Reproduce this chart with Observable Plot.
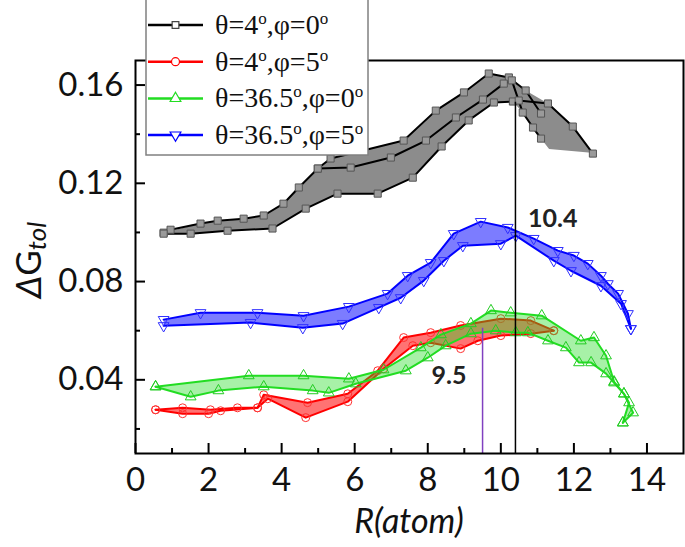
<!DOCTYPE html>
<html><head><meta charset="utf-8">
<script src="https://cdn.jsdelivr.net/npm/d3@7"></script>
<script src="https://cdn.jsdelivr.net/npm/@observablehq/plot@0.6"></script>
<style>body{margin:0;background:#fff;} #chart{width:685px;height:547px;}</style>
</head><body><div id="chart"></div>
<script>
// ---------- data ----------
const seriesTheta = ["4", "4", "36.5", "36.5"];
const seriesPhi = ["0", "5", "0", "5"];
const seriesColors = ["#000000", "#ff0000", "#22dd22", "#0000ff"];

// θ=4°, φ=0° (black)
const blackTop = [[0.77,0.0999],[0.96,0.1011],[1.78,0.1036],[2.25,0.1048],[2.96,0.1056],[3.51,0.1069],[4.05,0.1117],[4.47,0.1183],[4.99,0.1260],[5.34,0.1301],[7.34,0.1374],[8.22,0.1496],[8.99,0.1570],[9.67,0.1647],[10.22,0.1631],[10.68,0.1578],[11.10,0.1484]];
const blackMid = [[4.99,0.1260],[5.89,0.1264],[6.99,0.1305],[7.95,0.1374],[8.77,0.1468],[9.51,0.1541],[10.08,0.1606],[10.30,0.1619],[10.60,0.1488],[10.88,0.1427],[11.10,0.1382]];
const blackBot = [[0.77,0.0995],[1.51,0.0995],[2.52,0.1007],[3.75,0.1016],[4.66,0.1097],[5.53,0.1158],[6.63,0.1158],[7.59,0.1223],[8.38,0.1350],[9.12,0.1456],[9.81,0.1529],[10.33,0.1533],[10.49,0.1537],[11.29,0.1525],[11.97,0.1431],[12.52,0.1321]];
const blackBandUpper = [[0.77,0.0999],[1.78,0.1036],[2.96,0.1056],[3.51,0.1069],[4.05,0.1117],[4.47,0.1183],[4.99,0.1260],[5.34,0.1301],[7.34,0.1374],[8.22,0.1496],[8.99,0.1570],[9.67,0.1647],[10.22,0.1631],[10.6,0.1585],[11.29,0.1525],[11.97,0.1431],[12.52,0.1321]];
const blackBandLower = [[0.77,0.0995],[1.51,0.0995],[2.52,0.1007],[3.75,0.1016],[4.66,0.1097],[5.53,0.1158],[6.63,0.1158],[7.59,0.1223],[8.38,0.1350],[9.12,0.1456],[9.81,0.1529],[10.33,0.1533],[10.60,0.1488],[10.88,0.1427],[11.10,0.1382],[11.32,0.1340],[12.40,0.1325]];

// θ=4°, φ=5° (red)
const redTop = [[0.55,0.0278],[1.29,0.0286],[2.05,0.0278],[2.79,0.0286],[3.34,0.0286],[3.51,0.0339],[4.71,0.0307],[5.81,0.0343],[6.63,0.0437],[7.34,0.0572],[8.08,0.0592],[8.90,0.0621],[10.00,0.0649],[10.82,0.0641],[11.45,0.0600]];
const redBot = [[0.55,0.0278],[1.29,0.0262],[2.00,0.0262],[2.33,0.0274],[3.34,0.0286],[3.62,0.0323],[4.66,0.0246],[5.81,0.0311],[6.79,0.0445],[7.59,0.0539],[8.08,0.0551],[8.90,0.0527],[9.37,0.0559],[10.00,0.0580],[10.82,0.0588],[11.45,0.0600]];

// θ=36.5°, φ=0° (green)
const greenTop = [[0.55,0.0372],[3.10,0.0417],[4.60,0.0417],[5.84,0.0404],[6.79,0.0441],[7.81,0.0531],[8.36,0.0584],[9.18,0.0629],[9.73,0.0682],[10.27,0.0673],[11.12,0.0661],[12.19,0.0559],[12.55,0.0572],[12.88,0.0498],[13.10,0.0392],[13.37,0.0343],[13.62,0.0266],[13.34,0.0225]];
const greenBot = [[0.55,0.0372],[1.51,0.0331],[2.27,0.0356],[3.51,0.0372],[4.85,0.0356],[5.29,0.0347],[6.03,0.0384],[7.40,0.0437],[8.00,0.0490],[8.49,0.0539],[9.18,0.0588],[9.86,0.0600],[10.41,0.0592],[10.74,0.0592],[11.29,0.0559],[11.78,0.0531],[12.14,0.0470],[12.47,0.0470],[12.88,0.0425],[13.10,0.0388],[13.37,0.0343],[13.51,0.0307],[13.34,0.0225]];

// θ=36.5°, φ=5° (blue)
const blueTop = [[0.77,0.0645],[1.78,0.0673],[3.34,0.0673],[4.60,0.0661],[5.84,0.0698],[6.90,0.0751],[7.45,0.0824],[8.08,0.0877],[8.71,0.0995],[9.45,0.1044],[10.19,0.1020],[10.90,0.0975],[11.56,0.0926],[12.00,0.0906],[12.38,0.0873],[12.74,0.0824],[12.93,0.0791],[13.21,0.0751],[13.48,0.0669],[13.56,0.0608]];
const blueBot = [[0.77,0.0620],[3.15,0.0633],[4.58,0.0612],[5.67,0.0629],[6.66,0.0694],[7.26,0.0734],[7.89,0.0804],[8.44,0.0885],[8.96,0.0946],[10.00,0.0954],[10.41,0.0987],[11.45,0.0885],[11.92,0.0844],[12.74,0.0783],[13.29,0.0710],[13.56,0.0608]];

// reference lines and annotations
const markLines = [{x: 10.4, top: 0.153, color: "#000000"}, {x: 9.5, top: 0.061, color: "#8040c0"}];
const annotations = [{x: 11.42, y: 0.1056, text: "10.4"}, {x: 8.58, y: 0.0417, text: "9.5"}];

const xMajor = [0, 2, 4, 6, 8, 10, 12, 14];
const xMinor = [1, 3, 5, 7, 9, 11, 13];
const yMajor = [0.04, 0.08, 0.12, 0.16];
const yMinor = [0.02, 0.06, 0.10, 0.14];

// ---------- helpers ----------
const poly = (up, lo) => up.concat(lo.slice().reverse());
const X = d => d[0], Y = d => d[1];

function seriesMarks(lines, band, color, bandFill, bandOpacity, symbol, rotate, dotFill, dotStroke) {
  const m = [Plot.line(band, {x: X, y: Y, fill: bandFill, fillOpacity: bandOpacity, stroke: "none"})];
  for (const l of lines) m.push(Plot.line(l, {x: X, y: Y, stroke: color, strokeWidth: 2}));
  for (const l of lines) m.push(Plot.dot(l, {x: X, y: Y, symbol, rotate, r: 4, fill: dotFill, stroke: dotStroke, strokeWidth: 1}));
  return m;
}

const plot = Plot.plot({
  width: 685, height: 547,
  marginLeft: 135, marginRight: 2, marginTop: 60, marginBottom: 94,
  x: {domain: [0, 15]},
  y: {domain: [0.01, 0.17]},
  style: {fontFamily: "Lato", background: "white", overflow: "visible"},
  marks: [
    ...seriesMarks([blackTop, blackMid, blackBot], poly(blackBandUpper, blackBandLower), "#000", "#8c8c8c", 1, "square", 0, "#9a9a9a", "#555"),
    ...seriesMarks([redTop, redBot], poly(redTop, redBot), seriesColors[1], "#ff0000", 0.55, "circle", 0, "none", "#ff3030"),
    ...seriesMarks([greenTop, greenBot], poly(greenTop, greenBot), seriesColors[2], "#22dd22", 0.4, "triangle", 0, "none", "#22cc22"),
    ...seriesMarks([blueTop, blueBot], poly(blueTop, blueBot), seriesColors[3], "#1010ff", 0.55, "triangle", 180, "none", "#3030ff"),
    Plot.ruleX(markLines, {x: "x", y1: 0.01, y2: "top", stroke: "color", strokeWidth: 1.5}),
    Plot.text(annotations, {x: "x", y: "y", text: "text", fontSize: 25, fontWeight: "bold", fill: "#222"}),
    Plot.frame({stroke: "black", strokeWidth: 2}),
    Plot.axisX({ticks: xMajor, tickSize: -10, tickFormat: () => "", label: null, strokeWidth: 2}),
    Plot.axisX({ticks: xMinor, tickSize: -5, tickFormat: () => "", label: null, strokeWidth: 2}),
    Plot.axisX({ticks: xMajor, tickSize: 0, tickPadding: 14, fontSize: 33, label: null, fill: "#111"}),
    Plot.axisY({ticks: yMajor, tickSize: -10, tickFormat: () => "", label: null, strokeWidth: 2}),
    Plot.axisY({ticks: yMinor, tickSize: -5, tickFormat: () => "", label: null, strokeWidth: 2}),
    Plot.axisY({ticks: yMajor, tickSize: 0, tickPadding: 12, fontSize: 33, tickFormat: d3.format(".2f"), label: null, fill: "#111"})
  ]
});
document.getElementById("chart").appendChild(plot);

// ---------- axis titles ----------
const svg = d3.select(plot);
svg.append("text").attr("x", 409).attr("y", 533).attr("text-anchor", "middle")
  .attr("font-family", "Lato").attr("font-size", 34).attr("font-style", "italic").attr("fill", "#111")
  .text("R(atom)");
const yt = svg.append("text").attr("transform", "translate(41,260) rotate(-90)").attr("text-anchor", "middle")
  .attr("font-family", "Lato").attr("font-size", 35).attr("fill", "#111");
yt.append("tspan").attr("font-style", "italic").text("Δ");
yt.append("tspan").text("G");
yt.append("tspan").attr("font-style", "italic").attr("font-size", 26).attr("dy", 5).text("tol");

// ---------- legend ----------
const lg = svg.append("g");
lg.append("rect").attr("x", 146).attr("y", -2).attr("width", 222).attr("height", 157)
  .attr("fill", "white").attr("stroke", "#808080").attr("stroke-width", 1.5);
const legendSymbols = [d3.symbolSquare, d3.symbolCircle, d3.symbolTriangle, d3.symbolTriangle];
const legendRot = [0, 0, 0, 180];
const legendSizes = [45, 50, 50, 50];
seriesTheta.forEach((t, i) => {
  const cy = 25 + i * 36.7;
  lg.append("line").attr("x1", 148).attr("x2", 203).attr("y1", cy).attr("y2", cy)
    .attr("stroke", seriesColors[i]).attr("stroke-width", 2.5);
  lg.append("path").attr("d", d3.symbol(legendSymbols[i], legendSizes[i])())
    .attr("transform", `translate(175.5,${cy}) rotate(${legendRot[i]})`)
    .attr("fill", "white").attr("stroke", i === 0 ? "#444" : seriesColors[i]).attr("stroke-width", 1.2);
  const tx = lg.append("text").attr("x", 215).attr("y", cy + 9).attr("text-anchor", "start")
    .attr("font-family", "Liberation Serif").attr("font-size", 28).attr("fill", "#111");
  tx.append("tspan").text("θ=" + t);
  tx.append("tspan").attr("font-size", 17).attr("dy", -10).text("o");
  tx.append("tspan").attr("dy", 10).text(",φ=" + seriesPhi[i]);
  tx.append("tspan").attr("font-size", 17).attr("dy", -10).text("o");
});
</script>
</body></html>
